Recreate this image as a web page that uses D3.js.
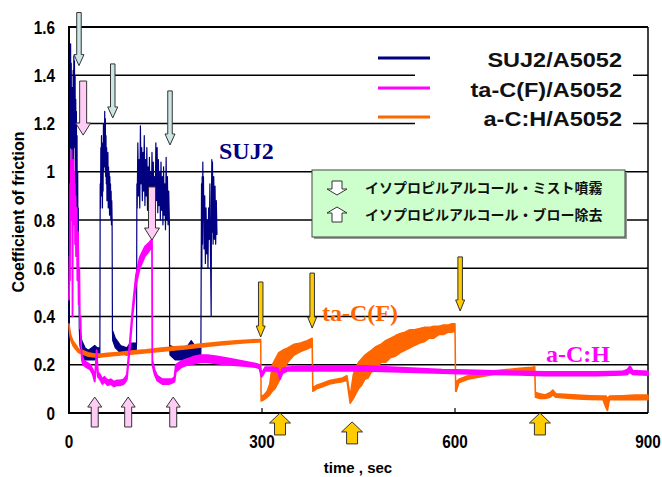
<!DOCTYPE html>
<html><head><meta charset="utf-8">
<script src="https://cdn.jsdelivr.net/npm/d3@7"></script>
<style>body{margin:0;background:#fff}svg{display:block}</style>
</head><body>
<script>
// ---------- data ----------
const xTicks = [0, 300, 600, 900];
const xTickLabels = ["0", "300", "600", "900"];
const yTicks = [0, 0.2, 0.4, 0.6, 0.8, 1, 1.2, 1.4, 1.6];
const yTickLabels = ["0", "0.2", "0.4", "0.6", "0.8", "1", "1.2", "1.4", "1.6"];
const seriesNames = ["SUJ2/A5052", "ta-C(F)/A5052", "a-C:H/A5052"];

// [time, low, high] (low == high for single spikes)
const suj2 = [
 [0,0.30,0.30],[0.5,0.9,0.9],[1,0.7,0.7],[1.5,1.3,1.3],[2,1.1,1.1],[2.5,1.53,1.53],[3,1.2,1.2],[3.5,1.45,1.45],
 [4,0.95,0.95],[4.5,1.35,1.35],[5,0.8,0.8],[5.5,1.3,1.3],[6,1.15,1.15],[6.5,1.42,1.42],[7,1.05,1.05],[7.5,1.48,1.48],
 [8,1.2,1.2],[8.5,1.46,1.46],[9,1.1,1.1],[9.5,1.4,1.4],[10,0.9,0.9],[10.5,1.3,1.3],[11,1.0,1.0],[11.5,1.25,1.25],
 [12,0.85,0.85],[12.5,1.15,1.15],[13,0.7,0.7],[13.5,1.0,1.0],[14,0.6,0.6],[14.5,0.85,0.85],[15,0.45,0.45],
 [15.5,0.6,0.6],[16,0.35,0.35],
 [17,0.28,0.34],[20,0.24,0.30],[25,0.22,0.27],[30,0.22,0.26],[35,0.22,0.27],[40,0.22,0.28],[44,0.23,0.27],[47.5,0.23,0.27],
 [48,0.25,0.25],[48.5,0.95,0.95],[49,0.85,0.85],[49.5,1.1,1.1],[50,0.9,0.9],[50.5,1.15,1.15],[51,0.95,0.95],
 [51.5,1.05,1.05],[52,0.85,0.85],[52.5,1.12,1.12],[53,0.92,0.92],[53.5,1.2,1.2],[54,1.0,1.0],[54.5,1.18,1.18],
 [55,1.02,1.02],[55.5,1.25,1.25],[56,1.05,1.05],[56.5,1.22,1.22],[57,0.98,0.98],[57.5,1.15,1.15],[58,0.95,0.95],
 [58.5,1.1,1.1],[59,0.88,0.88],[59.5,1.05,1.05],[60,0.9,0.9],[60.5,1.08,1.08],[61,0.85,0.85],[61.5,1.02,1.02],
 [62,0.88,0.88],[62.5,1.0,1.0],[63,0.82,0.82],[63.5,0.98,0.98],[64,0.86,0.86],[64.5,0.95,0.95],[65,0.8,0.8],
 [65.5,0.92,0.92],[66,0.78,0.78],[66.5,0.88,0.88],[67,0.8,0.8],[67.5,0.34,0.34],
 [68,0.30,0.34],[72,0.27,0.31],[80,0.25,0.28],[90,0.24,0.27],[95,0.25,0.29],[100,0.25,0.29],[104.5,0.26,0.29],
 [105,0.29,0.29],[105.5,0.95,0.95],[106,0.85,0.85],[107,1.12,1.12],[108,0.9,0.9],[109,1.05,1.05],[110,0.85,0.85],
 [111,1.19,1.19],[112,0.95,0.95],[113,1.1,1.1],[114,0.88,0.88],[115,1.08,1.08],[116,0.92,0.92],[117,1.15,1.15],
 [118,0.86,0.86],[119,1.05,1.05],[120,0.9,0.9],[121,1.1,1.1],[122,0.84,0.84],[123,1.02,1.02],[124,0.88,0.88],
 [125,1.06,1.06],[126,0.82,0.82],[127,1.0,1.0],[128,0.86,0.86],[129,1.08,1.08],[130,0.84,0.84],[131,1.04,1.04],
 [132,0.8,0.8],[133,0.98,0.98],[134,0.85,0.85],[135,1.12,1.12],[136,0.88,0.88],[137,1.1,1.1],[138,0.83,0.83],
 [139,1.05,1.05],[140,0.86,0.86],[141,1.0,1.0],[142,0.8,0.8],[143,1.04,1.04],[144,0.84,0.84],[145,0.98,0.98],
 [146,0.78,0.78],[147,1.02,1.02],[148,0.82,0.82],[149,0.95,0.95],[150,0.76,0.76],[151,1.06,1.06],[152,0.8,0.8],
 [153,0.98,0.98],[154,0.78,0.78],[155,0.92,0.92],[156,0.8,0.8],[156.5,0.28,0.28],
 [157,0.24,0.28],[165,0.22,0.27],[175,0.22,0.27],[185,0.23,0.28],[190,0.23,0.30],[195,0.23,0.28],[200,0.22,0.28],[204.5,0.23,0.27],
 [205,0.25,0.25],[205.5,0.62,0.62],[206,0.95,0.95],[206.5,0.6,0.6],[207,0.98,0.98],[207.5,0.7,0.7],[208,1.04,1.04],
 [208.5,0.8,0.8],[209,0.98,0.98],[210,0.68,0.68],[211,0.9,0.9],[212,0.62,0.62],[213,0.85,0.85],[214,0.66,0.66],
 [215,0.8,0.8],[216,0.6,0.6],[217,0.85,0.85],[218,0.72,0.72],[219,0.95,0.95],[220,0.65,0.65],[221,0.4,0.4],
 [221.5,0.9,0.9],[222,1.05,1.05],[222.5,0.75,0.75],[223,1.04,1.04],[224,0.7,0.7],[225,0.98,0.98],[226,0.72,0.72],
 [227,0.94,0.94],[228,0.7,0.7],[229,0.88,0.88],[230,0.74,0.74]
];

const taC = [
 [0,0.47,0.47],[1,0.65,0.65],[1.5,0.55,0.55],[2,0.95,0.95],[2.5,0.8,0.8],[3,1.05,1.05],[3.5,0.85,0.85],[4,1.09,1.09],
 [4.5,0.9,0.9],[5,1.02,1.02],[5.5,0.4,0.4],[6,0.98,0.98],[6.5,0.82,0.82],[7,1.05,1.05],[7.5,0.85,0.85],[8,1.0,1.0],
 [8.5,0.78,0.78],[9,0.95,0.95],[9.5,0.7,0.7],[10,0.9,0.9],[11,0.65,0.65],[12,0.85,0.85],[13,0.55,0.55],[14,0.75,0.75],
 [15,0.45,0.45],[16,0.6,0.6],[17,0.35,0.35],[18,0.4,0.4],[19,0.27,0.27],[20,0.22,0.24],
 [22,0.2,0.22],[27,0.19,0.21],[33,0.18,0.2],[37,0.16,0.18],[40,0.13,0.15],[41,0.16,0.18],[43,0.24,0.26],[44,0.19,0.21],
 [45,0.15,0.17],[48,0.14,0.16],[52,0.12,0.14],[55,0.13,0.15],[60,0.115,0.135],[65,0.12,0.14],[70,0.11,0.13],
 [75,0.115,0.135],[80,0.115,0.135],[85,0.12,0.14],[88,0.13,0.15],[90,0.14,0.16],[95,0.28,0.31],[99,0.41,0.44],
 [104,0.53,0.57],[110,0.6,0.645],[118,0.65,0.69],[124,0.67,0.705],[129,0.69,0.72],[129.5,0.2,0.22],[133,0.16,0.18],
 [137,0.135,0.155],[145,0.12,0.14],[155,0.12,0.14],[160,0.125,0.14],[164,0.13,0.15],[166,0.17,0.2],[175,0.19,0.215],
 [185,0.2,0.225],[195,0.205,0.235],[205,0.21,0.24],[215,0.21,0.24],[230,0.205,0.235],[250,0.2,0.225],[270,0.195,0.215],
 [290,0.19,0.205],[296,0.185,0.2],[299,0.15,0.17],[302,0.16,0.175],[305,0.175,0.19],[315,0.175,0.19],[325,0.17,0.185],
 [328,0.14,0.16],[332,0.165,0.185],[340,0.175,0.19],[380,0.175,0.195],[420,0.175,0.195],[460,0.175,0.195],
 [500,0.172,0.19],[540,0.168,0.185],[580,0.165,0.18],[620,0.162,0.178],[660,0.16,0.175],[700,0.158,0.172],
 [740,0.155,0.17],[780,0.155,0.17],[820,0.155,0.17],[860,0.158,0.172],[868,0.16,0.18],[872,0.17,0.195],
 [876,0.16,0.176],[900,0.157,0.172]
];

const aCH = [
 [0,0.36,0.37],[1,0.33,0.35],[3,0.30,0.32],[6,0.28,0.30],[10,0.265,0.285],[15,0.25,0.265],[20,0.245,0.26],
 [30,0.235,0.25],[40,0.232,0.245],[50,0.232,0.245],[60,0.235,0.248],[80,0.24,0.252],[100,0.245,0.258],
 [120,0.25,0.262],[140,0.255,0.268],[160,0.26,0.274],[180,0.265,0.278],[200,0.272,0.285],[220,0.278,0.29],
 [240,0.283,0.295],[260,0.288,0.30],[280,0.292,0.303],[298,0.295,0.305],[298.6,0.05,0.07],[303,0.055,0.075],
 [308,0.065,0.09],[312,0.075,0.12],[316,0.09,0.2],[320,0.10,0.22],[326,0.13,0.25],[332,0.17,0.26],[340,0.21,0.27],
 [350,0.24,0.285],[360,0.255,0.29],[370,0.265,0.30],[378,0.275,0.31],[379,0.09,0.105],[385,0.10,0.115],
 [395,0.11,0.125],[405,0.12,0.135],[415,0.125,0.14],[425,0.13,0.145],[432,0.135,0.155],[437,0.04,0.07],
 [442,0.06,0.16],[446,0.08,0.19],[450,0.10,0.21],[455,0.115,0.225],[460,0.14,0.24],[465,0.145,0.25],[470,0.17,0.26],
 [477,0.175,0.275],[485,0.21,0.285],[492,0.21,0.30],[500,0.23,0.31],[507,0.235,0.32],[515,0.25,0.33],[522,0.26,0.335],
 [530,0.27,0.345],[537,0.28,0.345],[545,0.29,0.35],[552,0.295,0.355],[560,0.31,0.355],[567,0.31,0.36],[575,0.325,0.36],
 [582,0.325,0.365],[590,0.335,0.365],[595,0.335,0.37],[600,0.34,0.37],
 [601,0.09,0.10],[602,0.09,0.13],[606,0.125,0.14],[620,0.14,0.155],[640,0.15,0.165],[660,0.16,0.175],
 [680,0.165,0.18],[700,0.17,0.185],[720,0.175,0.19],[724,0.178,0.192],[725,0.065,0.085],[732,0.06,0.08],
 [740,0.06,0.075],[748,0.065,0.085],[752,0.075,0.095],[757,0.065,0.08],[770,0.062,0.078],[790,0.058,0.075],
 [810,0.056,0.072],[830,0.055,0.07],[835,0.02,0.07],[837,0.01,0.06],[840,0.055,0.07],[860,0.055,0.072],
 [880,0.056,0.075],[900,0.055,0.075]
];

// arrows: [time, tail value, tip value]
const mistSUJ2 = [[15.5,1.66,1.44],[68,1.447,1.223],[157,1.335,1.111]];
const mistTaC = [[22,1.376,1.152],[129,0.937,0.717]];
const blowTaC = [[40,-0.058,0.066],[92,-0.058,0.066],[162,-0.058,0.066]];
const mistACH = [[298,0.543,0.315],[378,0.58,0.352],[608,0.647,0.423]];
const blowACH = [[328,-0.091,0],[440,-0.128,-0.037],[732,-0.091,0]];

const boxLabels = ["イソプロピルアルコール・ミスト噴霧", "イソプロピルアルコール・ブロー除去"];

// ---------- drawing ----------
const W = 662, H = 477;
const colors = {suj2:"#000080", taC:"#ff00ff", aCH:"#ff6600"};
const svg = d3.select("body").append("svg").attr("width", W).attr("height", H);
const x = d3.scaleLinear().domain([0, 900]).range([69, 648]);
const y = d3.scaleLinear().domain([0, 1.6]).range([413, 27]);
const sans = "'Liberation Sans', Arial, sans-serif";
const serif = "'Liberation Serif', 'Times New Roman', serif";

// gridlines
svg.append("g").selectAll("line").data(yTicks.filter(v => v > 0 && v < 1.6)).join("line")
  .attr("x1", x(0)).attr("x2", x(900)).attr("y1", d => y(d)).attr("y2", d => y(d))
  .attr("stroke", "#000").attr("stroke-width", 1.3);

// legend background (covers gridlines)
svg.append("rect").attr("x", 415).attr("y", 40).attr("width", 218).attr("height", 95).attr("fill", "#fff");

// frame
svg.append("line").attr("x1", x(0)).attr("x2", x(900)).attr("y1", y(1.6)).attr("y2", y(1.6)).attr("stroke", "#000").attr("stroke-width", 2);
svg.append("line").attr("x1", x(900)).attr("x2", x(900)).attr("y1", y(1.6)).attr("y2", y(0)).attr("stroke", "#000").attr("stroke-width", 1.5);
svg.append("line").attr("x1", x(0)).attr("x2", x(0)).attr("y1", y(1.6) - 1).attr("y2", y(0) + 1).attr("stroke", "#000").attr("stroke-width", 2);
svg.append("line").attr("x1", x(0)).attr("x2", x(900)).attr("y1", y(0)).attr("y2", y(0)).attr("stroke", "#000").attr("stroke-width", 2);
svg.append("g").selectAll("line").data(xTicks.slice(1, -1)).join("line")
  .attr("x1", d => x(d)).attr("x2", d => x(d)).attr("y1", y(0)).attr("y2", y(0) - 5)
  .attr("stroke", "#000").attr("stroke-width", 1.2);

// tick labels
svg.append("g").selectAll("text").data(yTicks).join("text")
  .attr("transform", d => `translate(55,${y(d) + 6.5}) scale(0.85,1)`)
  .attr("text-anchor", "end").attr("font-family", sans).attr("font-weight", "bold").attr("font-size", 18)
  .text((d, i) => yTickLabels[i]);
svg.append("g").selectAll("text").data(xTicks).join("text")
  .attr("transform", d => `translate(${x(d)},448) scale(0.85,1)`)
  .attr("text-anchor", "middle").attr("font-family", sans).attr("font-weight", "bold").attr("font-size", 18)
  .text((d, i) => xTickLabels[i]);

// axis titles
svg.append("text").attr("transform", "translate(24,212) rotate(-90)").attr("text-anchor", "middle")
  .attr("font-family", sans).attr("font-weight", "bold").attr("font-size", 16).text("Coefficient of friction");
svg.append("text").attr("x", 358).attr("y", 473).attr("text-anchor", "middle")
  .attr("font-family", sans).attr("font-weight", "bold").attr("font-size", 15).text("time , sec");

// series
const area = d3.area().x(d => x(d[0])).y0(d => y(d[1])).y1(d => y(d[2]));
function drawSeries(data, color, sw) {
  svg.append("path").datum(data).attr("d", area).attr("fill", color)
    .attr("stroke", color).attr("stroke-width", sw).attr("stroke-linejoin", "round");
}
drawSeries(suj2, colors.suj2, 1.2);
drawSeries(aCH, colors.aCH, 1.5);
drawSeries(taC, colors.taC, 1.8);

// legend
const legY = [58, 88, 117];
const legColors = [colors.suj2, colors.taC, colors.aCH];
seriesNames.forEach((n, i) => {
  svg.append("line").attr("x1", 378).attr("x2", 430).attr("y1", legY[i]).attr("y2", legY[i])
    .attr("stroke", legColors[i]).attr("stroke-width", 3);
  svg.append("text").attr("transform", `translate(622,${legY[i] + 8.5}) scale(1.12,1)`).attr("text-anchor", "end")
    .attr("font-family", sans).attr("font-weight", "bold").attr("font-size", 21).attr("fill", "#111").text(n);
});

// series labels
svg.append("text").attr("x", 219).attr("y", 159).attr("font-family", serif).attr("font-weight", "bold")
  .attr("font-size", 24).attr("fill", colors.suj2).text("SUJ2");
svg.append("text").attr("x", 322).attr("y", 321).attr("font-family", serif).attr("font-weight", "bold")
  .attr("font-size", 24).attr("fill", colors.aCH).text("ta-C(F)");
svg.append("text").attr("x", 546).attr("y", 362).attr("font-family", serif).attr("font-weight", "bold")
  .attr("font-size", 24).attr("fill", colors.taC).text("a-C:H");

// green explanation box
svg.append("rect").attr("x", 314).attr("y", 172).attr("width", 313).attr("height", 67).attr("fill", "#999");
svg.append("rect").attr("x", 312).attr("y", 170).attr("width", 313).attr("height", 67)
  .attr("fill", "#ccffcc").attr("stroke", "#444").attr("stroke-width", 1);
function iconArrow(cx, yTail, yTip, s, hw, hh) {
  const sg = yTip > yTail ? 1 : -1, hb = yTip - sg * hh;
  return `M${cx - s / 2},${yTail}L${cx + s / 2},${yTail}L${cx + s / 2},${hb}L${cx + hw / 2},${hb}L${cx},${yTip}L${cx - hw / 2},${hb}L${cx - s / 2},${hb}Z`;
}
svg.append("path").attr("d", iconArrow(337, 181, 195, 10, 20, 6)).attr("fill", "#fff").attr("stroke", "#333").attr("stroke-width", 1);
svg.append("path").attr("d", iconArrow(337, 222, 207, 10, 20, 6)).attr("fill", "#fff").attr("stroke", "#333").attr("stroke-width", 1);
boxLabels.forEach((t, i) => {
  svg.append("text").attr("x", 365).attr("y", 193 + i * 27).attr("font-family", "'Noto Sans CJK JP', sans-serif")
    .attr("font-weight", "bold").attr("font-size", 14).attr("fill", "#111").text(t);
});

// arrows
function arrowPath(d, s, hw, hh) {
  const cx = x(d[0]), yTail = y(d[1]), yTip = y(d[2]);
  return iconArrow(cx, yTail, yTip, s, hw, hh);
}
function drawArrows(data, fill, s, hw, hh) {
  svg.append("g").selectAll("path").data(data).join("path")
    .attr("d", d => arrowPath(d, s, hw, hh)).attr("fill", fill).attr("stroke", "#333").attr("stroke-width", 1);
}
drawArrows(mistSUJ2, "#cce6e6", 4.5, 10, 11);
drawArrows(mistTaC, "#ffccf5", 7, 15, 12);
drawArrows(blowTaC, "#ffccf5", 7, 14, 10);
drawArrows(mistACH, "#ffcc00", 4.5, 9, 11);
drawArrows(blowACH, "#ffcc00", 11, 21, 10);
</script>
</body></html>
